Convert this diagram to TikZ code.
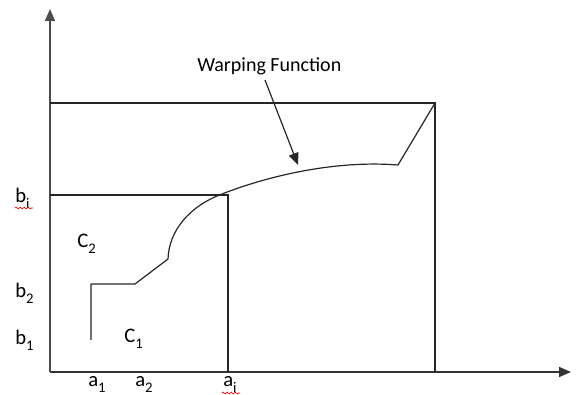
\documentclass[tikz,border=0pt]{standalone}
\usepackage{fontspec}
\setmainfont{Carlito}
\usetikzlibrary{arrows.meta,decorations.pathmorphing}
\newcommand{\lowidx}[1]{\raisebox{-0.28em}{\fontsize{11}{11}\selectfont #1}}

\begin{document}
\begin{tikzpicture}[x=0.75pt,y=-0.75pt,
  lbl/.style={font=\fontsize{15.5}{18}\selectfont,inner sep=0pt,anchor=base west},
  edge/.style={line width=0.9pt,black!85},
  spell/.style={red,line width=0.5pt,decorate,decoration={snake,amplitude=0.7pt,segment length=3pt}}]
\useasboundingbox (0,0) rectangle (576,395);
% axes
\coordinate (O) at (50,372);
\coordinate (xend) at (571,372);
\coordinate (yend) at (50,9);
\draw[-{Triangle[length=9pt,width=7.5pt]},line width=1.2pt,black!80] (O) -- (xend);
\draw[-{Triangle[length=9pt,width=7.5pt]},line width=1.2pt,black!70] (O) -- (yend);
% outer box and bi/ai box
\coordinate (tl) at (50,103);
\coordinate (tr) at (435,103);
\coordinate (br) at (435,372);
\draw[edge] (tl) -- (tr) -- (br);
\coordinate (bl) at (50,195);
\coordinate (bc) at (228,195);
\coordinate (bb) at (228,372);
\draw[edge] (bl) -- (bc) -- (bb);
% warping path
\coordinate (p0) at (91,340);
\coordinate (p1) at (91,284);
\coordinate (p2) at (135,284);
\coordinate (p3) at (168,259);
\coordinate (p4) at (398,165);
\draw[edge,line join=round] (p0) -- (p1) -- (p2) -- (p3)
  .. controls (169,230) and (190,206) .. (222,194)
  .. controls (268,176) and (335,160) .. (p4) -- (tr);
% labels
\node[lbl] (bi) at (15,203) {b\lowidx{i}};
\node[lbl] (btwo) at (15,298) {b\lowidx{2}};
\node[lbl] (bone) at (15,345) {b\lowidx{1}};
\node[lbl] (ctwo) at (77,248) {C\lowidx{2}};
\node[lbl] (cone) at (124,343) {C\lowidx{1}};
\node[lbl] (aone) at (88,387) {a\lowidx{1}};
\node[lbl] (atwo) at (135,387) {a\lowidx{2}};
\node[lbl] (ai) at (223,387) {a\lowidx{i}};
\node[lbl,font=\fontsize{15}{17}\selectfont] (warp) at (197,72) {Warping Function};
% pointer
\coordinate (tip) at (298,165);
\draw[-{Triangle[length=9pt,width=7.5pt]},edge] (265,80) -- (tip);
% spell-check marks
\draw[spell] (15,208) -- (33,208);
\draw[spell] (222,393) -- (240,393);
\end{tikzpicture}
\end{document}
